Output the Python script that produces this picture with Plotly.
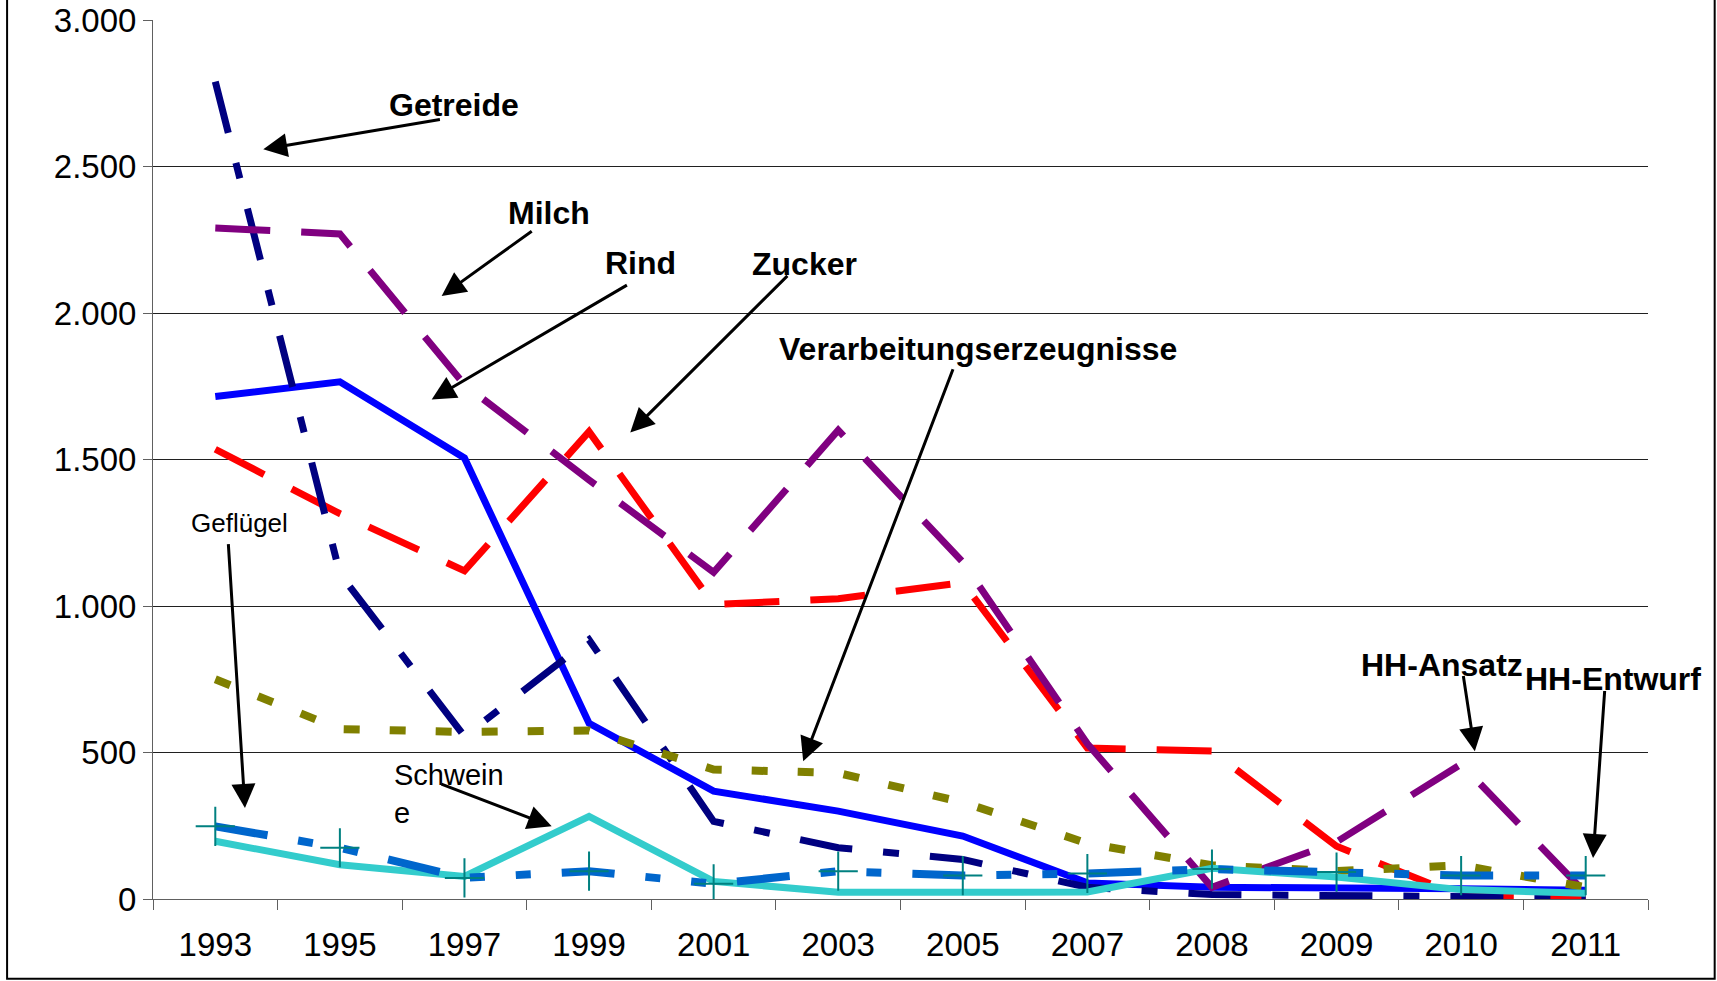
import plotly.graph_objects as go

# ---------------- data ----------------
years = ["1993", "1995", "1997", "1999", "2001", "2003", "2005", "2007", "2008", "2009", "2010", "2011"]
getreide = [2790, 1110, 555, 885, 265, 175, 135, 40, 15, 10, 5, 5]
milch = [2290, 2270, 1755, 1430, 1115, 1600, 1150, 530, 40, 195, 460, 20]
rind = [1715, 1765, 1505, 600, 368, 300, 215, 55, 40, 40, 35, 30]
zucker = [1535, 1315, 1120, 1595, 1005, 1025, 1080, 515, 505, 180, 10, 5]
verarbeitung = [750, 580, 570, 575, 442, 430, 330, 190, 115, 95, 115, 40]
gefluegel = [248, 175, 72, 95, 52, 95, 80, 87, 102, 92, 80, 80]
schweine = [197, 117, 77, 282, 60, 23, 23, 24, 105, 75, 32, 20]

y_tickvals = [0, 500, 1000, 1500, 2000, 2500, 3000]
y_ticktext = ["0", "500", "1.000", "1.500", "2.000", "2.500", "3.000"]

x_idx = list(range(len(years)))
FONT = "Liberation Sans, Arial, sans-serif"

fig = go.Figure()

long_dash = "55px,31px"
long_short = "53px,31px,16px,31px"
long_short_short = "53px,31px,15px,31px,15px,31px"

fig.add_trace(go.Scatter(x=x_idx, y=zucker, mode="lines", name="Zucker",
                         line=dict(color="#FF0000", width=7, dash=long_dash)))
fig.add_trace(go.Scatter(x=x_idx, y=rind, mode="lines", name="Rind",
                         line=dict(color="#0000FF", width=7)))
fig.add_trace(go.Scatter(x=x_idx, y=getreide, mode="lines", name="Getreide",
                         line=dict(color="#000080", width=7, dash=long_short)))
fig.add_trace(go.Scatter(x=x_idx, y=milch, mode="lines", name="Milch",
                         line=dict(color="#800080", width=7, dash=long_dash)))
fig.add_trace(go.Scatter(x=x_idx, y=verarbeitung, mode="lines", name="Verarbeitungserzeugnisse",
                         line=dict(color="#808000", width=8, dash="16px,30px")))
fig.add_trace(go.Scatter(x=x_idx, y=schweine, mode="lines", name="Schweine",
                         line=dict(color="#33CCCC", width=7)))
fig.add_trace(go.Scatter(x=x_idx, y=gefluegel, mode="lines+markers", name="Geflügel",
                         line=dict(color="#0066CC", width=8, dash=long_short_short),
                         marker=dict(symbol="cross-thin", size=28,
                                     line=dict(color="#008080", width=2), color="#008080")))

# ---------------- annotations ----------------
def arrow(tail, head):
    fig.add_annotation(x=head[0], y=head[1], ax=tail[0], ay=tail[1],
                       xref="x", yref="y", axref="x", ayref="y",
                       text="", showarrow=True, arrowhead=2, arrowsize=1.6,
                       arrowwidth=3, arrowcolor="black", standoff=0, startstandoff=0)

def label(txt, x, y, size=32, bold=True, xanchor="center", align="center"):
    t = f"<b>{txt}</b>" if bold else txt
    fig.add_annotation(x=x, y=y, xref="x", yref="y", text=t, showarrow=False,
                       xanchor=xanchor, yanchor="middle", align=align,
                       font=dict(family=FONT, size=size, color="black"))

label("Getreide", 1.916, 2709)
arrow((1.815, 2661), (0.385, 2559))
label("Milch", 2.679, 2340)
arrow((2.552, 2283), (1.817, 2058))
label("Rind", 3.409, 2170)
arrow((3.316, 2098), (1.737, 1705))
label("Zucker", 4.729, 2166)
arrow((4.604, 2132), (3.331, 1592))
label("Verarbeitungserzeugnisse", 6.121, 1876)
arrow((5.926, 1813), (4.719, 470))
label("HH-Ansatz", 9.843, 800)
arrow((10.016, 766), (10.110, 504))
label("HH-Entwurf", 11.218, 752)
arrow((11.153, 715), (11.059, 140))
label("Geflügel", 0.198, 1285, size=26, bold=False)
arrow((0.104, 1216), (0.238, 311))
label("Schwein<br>e", 1.416, 358, size=29, bold=False, xanchor="left", align="left")
arrow((1.803, 394), (2.700, 248))

# outer frame
fig.add_shape(type="rect", xref="paper", yref="paper",
              x0=-0.0976, x1=1.0446, y0=-0.0906, y1=1.2,
              line=dict(color="black", width=2), fillcolor="rgba(0,0,0,0)", layer="above")

fig.update_layout(
    width=1717, height=981,
    margin=dict(l=153, r=69, t=20, b=82, pad=0, autoexpand=False),
    paper_bgcolor="white", plot_bgcolor="white",
    showlegend=False,
    font=dict(family=FONT, size=33, color="black"),
    xaxis=dict(range=[-0.5, len(years) - 0.5], tickmode="array", tickvals=x_idx, ticktext=years,
               ticks="", showgrid=False, zeroline=False, automargin=False,
               showline=True, linecolor="#606060", linewidth=1,
               tickfont=dict(family=FONT, size=33, color="black"),
               ticklabelstandoff=16,
               minor=dict(tickmode="array", tickvals=[i - 0.5 for i in x_idx] + [len(years) - 0.5],
                          ticks="outside", ticklen=10, tickcolor="#606060", tickwidth=1, showgrid=False)),
    yaxis=dict(range=[0, 3000], tickmode="array", tickvals=y_tickvals, ticktext=y_ticktext,
               ticks="outside", ticklen=9, tickcolor="#606060", automargin=False,
               showgrid=True, gridcolor="#202020", gridwidth=1, zeroline=False,
               showline=True, linecolor="#606060", linewidth=1,
               tickfont=dict(family=FONT, size=33, color="black")),
)

fig.write_html("out.html", config={"displayModeBar": False},
               post_script="document.body.style.margin='0px';document.body.style.overflow='hidden';")
